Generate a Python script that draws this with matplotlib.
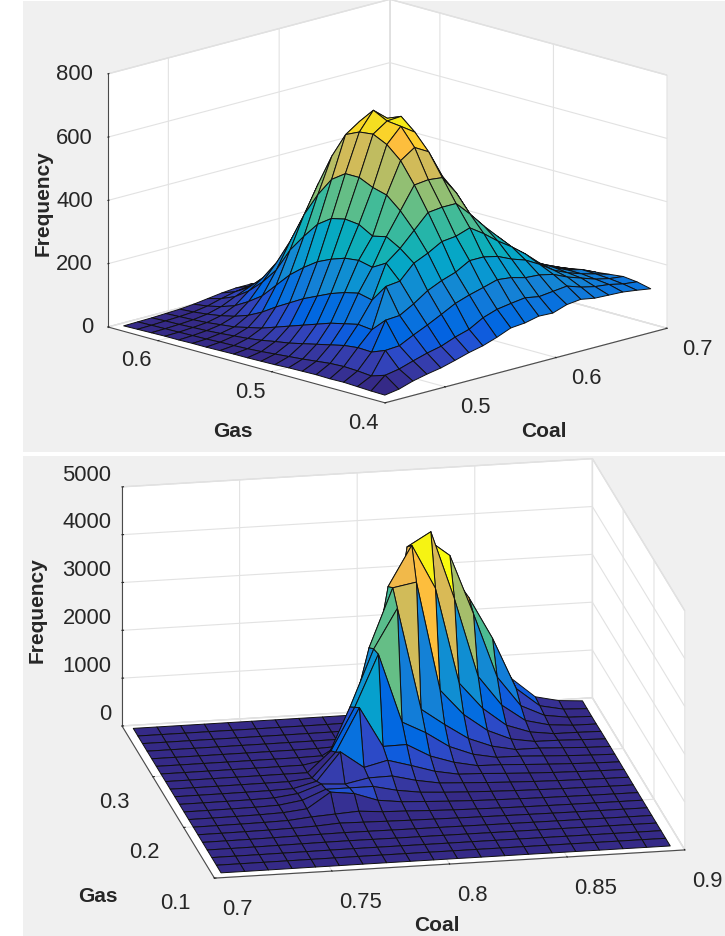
import numpy as np
import matplotlib
matplotlib.use("Agg")
import matplotlib.pyplot as plt
from matplotlib.colors import ListedColormap
from matplotlib.patches import Rectangle
from mpl_toolkits.mplot3d import proj3d

plt.rcParams['font.family'] = ['Liberation Sans', 'DejaVu Sans']

parula = ListedColormap([
 (0.2081,0.1663,0.5292),(0.2116,0.1898,0.5777),(0.2123,0.2138,0.6270),(0.2081,0.2386,0.6771),
 (0.1959,0.2645,0.7279),(0.1707,0.2919,0.7792),(0.1253,0.3242,0.8303),(0.0591,0.3598,0.8683),
 (0.0117,0.3875,0.8820),(0.0060,0.4086,0.8828),(0.0165,0.4266,0.8786),(0.0329,0.4430,0.8720),
 (0.0498,0.4586,0.8641),(0.0629,0.4737,0.8554),(0.0723,0.4887,0.8467),(0.0779,0.5040,0.8384),
 (0.0793,0.5200,0.8312),(0.0749,0.5375,0.8263),(0.0641,0.5570,0.8240),(0.0488,0.5772,0.8228),
 (0.0343,0.5966,0.8199),(0.0265,0.6137,0.8135),(0.0239,0.6287,0.8038),(0.0231,0.6418,0.7913),
 (0.0228,0.6535,0.7768),(0.0267,0.6642,0.7607),(0.0384,0.6743,0.7436),(0.0590,0.6838,0.7254),
 (0.0843,0.6928,0.7062),(0.1133,0.7015,0.6859),(0.1453,0.7098,0.6646),(0.1801,0.7177,0.6424),
 (0.2178,0.7250,0.6193),(0.2586,0.7317,0.5954),(0.3022,0.7376,0.5712),(0.3482,0.7424,0.5473),
 (0.3953,0.7459,0.5244),(0.4420,0.7481,0.5033),(0.4871,0.7491,0.4840),(0.5300,0.7491,0.4661),
 (0.5709,0.7485,0.4494),(0.6099,0.7473,0.4337),(0.6473,0.7456,0.4188),(0.6834,0.7435,0.4044),
 (0.7184,0.7411,0.3905),(0.7525,0.7384,0.3768),(0.7858,0.7356,0.3633),(0.8185,0.7327,0.3498),
 (0.8507,0.7299,0.3360),(0.8824,0.7274,0.3217),(0.9139,0.7258,0.3063),(0.9450,0.7261,0.2886),
 (0.9739,0.7314,0.2666),(0.9938,0.7455,0.2403),(0.9990,0.7653,0.2164),(0.9955,0.7861,0.1967),
 (0.9880,0.8066,0.1794),(0.9789,0.8271,0.1633),(0.9697,0.8481,0.1475),(0.9626,0.8705,0.1309),
 (0.9589,0.8949,0.1132),(0.9598,0.9218,0.0948),(0.9661,0.9514,0.0755),(0.9763,0.9831,0.0538)])

# ---- top panel data ----
coal_top = np.linspace(0.4525, 0.6925, 20)
gas_top = np.linspace(0.407, 0.637, 20)
freq_top = np.array([
 [11,18,32,42,50,62,75,85,100,118,122,132,130,145,150,142,140,138,132,125],
 [12,50,58,72,85,95,112,125,150,165,172,178,170,175,180,165,155,150,140,135],
 [14,36,105,108,130,150,172,195,210,222,235,230,218,215,205,185,170,155,145,140],
 [16,40,88,177,180,205,235,255,270,295,295,285,265,250,225,195,175,160,148,135],
 [15,42,90,135,260,265,310,330,355,360,375,345,310,280,245,205,180,160,150,130],
 [16,40,85,140,205,310,345,390,435,440,440,395,345,300,255,210,180,160,140,125],
 [15,35,75,130,215,285,370,440,510,515,510,450,370,310,255,205,175,150,135,118],
 [14,30,65,120,205,295,360,478,575,605,580,490,390,315,250,200,165,140,125,112],
 [12,26,55,105,190,290,385,490,614,660,630,530,410,310,240,185,150,130,115,108],
 [11,22,45,90,170,275,390,510,635,665,668,555,410,300,225,170,140,120,110,105],
 [10,18,38,75,150,255,380,510,630,687,650,540,390,280,205,155,125,110,100,98],
 [10,15,30,60,125,225,350,480,610,640,590,480,345,245,175,135,108,95,88,85],
 [9,13,24,45,100,190,300,420,530,560,495,395,285,200,145,110,90,80,75,70],
 [8,12,20,35,72,145,245,345,430,440,380,300,220,155,110,85,70,62,58,55],
 [8,10,16,25,50,100,170,250,320,320,270,215,155,110,78,60,50,45,42,40],
 [7,9,13,20,35,70,120,170,215,210,185,145,105,72,52,40,34,30,28,26],
 [7,8,11,15,25,45,80,110,130,135,118,92,65,45,32,25,20,18,16,15],
 [6,7,9,12,18,30,50,68,80,82,72,55,40,28,20,15,12,10,9,8],
 [5,6,8,10,13,20,32,42,48,50,44,34,25,18,13,10,8,7,6,5],
 [4,5,6,8,10,14,20,26,30,30,26,20,15,11,8,6,5,4,4,3]], dtype=float)
coal_ticks_top = [0.5, 0.6, 0.7]
gas_ticks_top = [0.4, 0.5, 0.6]
freq_ticks_top = [0, 200, 400, 600, 800]

# ---- bottom panel data ----
coal_bot = np.linspace(0.704, 0.895, 20)
gas_bot = np.linspace(0.109, 0.394, 20)
freq_bot = np.array([
 [3,3,4,5,6,6,7,7,7,7,7,6,6,6,5,5,4,4,3,3],
 [3,4,5,6,7,8,9,9,9,9,8,8,7,7,6,6,5,4,4,3],
 [4,5,6,8,10,12,13,13,12,11,10,10,9,8,7,6,6,5,4,4],
 [4,5,7,10,14,18,20,18,16,15,14,13,11,10,9,8,7,6,5,4],
 [4,6,8,12,18,25,30,28,25,22,20,18,15,13,11,9,8,6,5,4],
 [4,6,9,13,22,38,70,60,50,42,36,30,25,20,16,12,9,7,6,5],
 [4,6,9,14,24,70,100,130,90,75,55,40,30,22,16,12,9,7,6,5],
 [4,6,9,15,30,80,400,340,170,110,85,62,45,33,25,18,13,9,7,5],
 [4,5,8,13,26,100,300,300,300,190,120,90,68,50,36,26,18,13,9,6],
 [4,5,7,11,20,80,250,220,320,330,210,125,100,75,55,38,26,18,12,8],
 [4,5,6,9,13,25,150,735,380,500,360,210,120,105,78,55,38,26,16,10],
 [3,4,5,7,9,12,60,570,1470,630,640,370,210,110,100,75,52,34,20,12],
 [3,4,5,6,7,9,10,440,1320,2400,950,700,380,190,95,90,65,42,24,13],
 [3,3,4,5,6,7,9,100,1170,2350,3170,1030,680,360,170,70,70,48,26,14],
 [3,3,4,4,5,6,7,15,300,2220,3440,3530,1240,700,340,130,50,45,28,15],
 [3,3,3,4,4,5,6,10,30,600,3310,4140,3210,1200,640,260,90,25,22,13],
 [2,3,3,3,4,4,5,7,10,60,1000,3950,4235,2800,1150,520,170,50,12,8],
 [2,2,3,3,3,4,4,5,7,15,90,1200,3930,3550,2300,950,320,90,20,8],
 [2,2,2,3,3,3,4,4,5,10,30,100,1100,3210,2480,1600,520,130,30,10],
 [2,2,2,2,3,3,3,4,4,5,12,30,90,800,2180,1390,570,160,50,15]], dtype=float)
coal_ticks_bot = [0.7, 0.75, 0.8, 0.85, 0.9]
gas_ticks_bot = [0.1, 0.2, 0.3]
freq_ticks_bot = [0, 1000, 2000, 3000, 4000, 5000]

W, H = 725, 937
fig = plt.figure(figsize=(W/100, H/100), dpi=100, facecolor='white')

def panel(y0, y1):
    fig.add_artist(Rectangle((23/W, 1-y1/H), (W-23)/W, (y1-y0)/H, transform=fig.transFigure,
                             facecolor='#f0f0f0', edgecolor='none', zorder=-5))
panel(2, 452.5)
panel(457, 937)

def px(ax, x, y, z):
    ax.apply_aspect()
    X, Y, _ = proj3d.proj_transform(x, y, z, ax.get_proj())
    p = ax.transData.transform((X, Y))
    return np.array([p[0], H - p[1]])

def make(xlim, ylim, zlim, xs, ys, Z, xt, yt, zt, el, az, aspect,
         anchor_a, anchor_b, pads, aligns):
    S = 600.0
    ax = fig.add_axes([50/W, 50/H, S/W, S/H], projection='3d', proj_type='ortho')
    ax.patch.set_alpha(0)
    ax.set_box_aspect(aspect)
    ax.view_init(elev=el, azim=az)
    ax.set_xlim(*xlim, view_margin=0)
    ax.set_ylim(*ylim, view_margin=0)
    ax.set_zlim(*zlim, view_margin=0)
    XX, YY = np.meshgrid(xs, ys)
    fc = parula((Z - Z.min()) / (Z.max() - Z.min()))
    ax.plot_surface(XX, YY, Z, rstride=1, cstride=1, facecolors=fc, shade=False,
                    edgecolor='#101010', linewidth=0.7, antialiased=True)
    ax.set_xticks(xt); ax.set_xticklabels([str(v) for v in xt])
    ax.set_yticks(yt); ax.set_yticklabels([str(v) for v in yt])
    ax.set_zticks(zt); ax.set_zticklabels([str(v) for v in zt])
    for a, pad, (ha, va) in zip((ax.xaxis, ax.yaxis, ax.zaxis), pads, aligns):
        a.set_pane_color((1, 1, 1, 1))
        a.pane.set_edgecolor('#dcdcdc')
        a.line.set_color('#4a4a4a')
        a.line.set_linewidth(0.8)
        a._axinfo['grid'].update(color='#e2e2e2', linewidth=0.8)
        a._axinfo['tick'].update(inward_factor=0.0, outward_factor=0.04)
        a.set_tick_params(colors='#262626', labelsize=15.8, pad=pad, width=0.7)
        for t in a.get_ticklabels():
            t.set_ha(ha); t.set_va(va)
    ax.zaxis.set_ticks_position('upper')
    pa = px(ax, *anchor_a[0]); pb = px(ax, *anchor_b[0])
    s = np.hypot(*(np.array(anchor_b[1]) - anchor_a[1])) / np.hypot(*(pb - pa))
    S2 = S * s
    ax.set_position([50/W, 50/H, S2/W, S2/H])
    pa = px(ax, *anchor_a[0])
    dx, dy = np.array(anchor_a[1]) - pa
    ax.set_position([(50 + dx)/W, (50 - dy)/H, S2/W, S2/H])
    return ax

make((0.4455, 0.70), (0.40, 0.644), (0, 800), coal_top, gas_top, freq_top,
     coal_ticks_top, gas_ticks_top, freq_ticks_top, 15.6, -134.5, (1, 1, 0.665),
     ((0.4455, 0.644, 0), (108, 328)), ((0.70, 0.40, 0), (667, 329)), (4, 9, -2),
     (('left', 'center_baseline'), ('center', 'baseline'), ('right', 'center')))

make((0.70, 0.90), (0.10, 0.40), (0, 5000), coal_bot, gas_bot, freq_bot,
     coal_ticks_bot, gas_ticks_bot, freq_ticks_bot, 18.3, -100.8, (1, 1.03, 0.526),
     ((0.70, 0.40, 0), (122, 727)), ((0.90, 0.10, 0), (685, 850)), (13, 14, -3),
     (('left', 'center'), ('center', 'center_baseline'), ('right', 'bottom')))

def label(x, y, s, **k):
    fig.text(x/W, 1 - y/H, s, fontsize=15, fontweight='bold', color='#262626',
             ha='center', va='center', **k)
label(233, 432, 'Gas')
label(544, 432, 'Coal')
label(43, 203, 'Frequency', rotation=90)
label(98, 897, 'Gas')
label(437, 926, 'Coal')
label(37, 610, 'Frequency', rotation=90)

fig.savefig('out.png', dpi=100)
